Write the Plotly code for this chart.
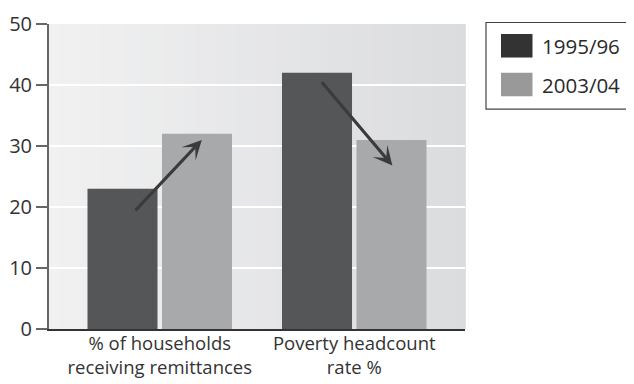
import plotly.graph_objects as go

# data
categories = ["% of households<br>receiving remittances", "Poverty headcount<br>rate %"]
series_names = ["1995/96", "2003/04"]
values_1995 = [23, 42]
values_2003 = [32, 31]
y_ticks = [0, 10, 20, 30, 40, 50]

BAR_COLOURS = ["#555658", "#a8a9ab"]
LEGEND_COLOURS = ["#333333", "#999999"]
FONT = "Open Sans"

# the page puts the figure 8px in from the top-left corner
OFF = 8
W, H = 634, 384
ML, MT = 49 - OFF, 24 - OFF
MR = W - (465 - OFF)
MB = H - (328.7 - OFF)
PW, PH = W - ML - MR, H - MT - MB


def px(x):
    # screen pixel -> paper coordinate
    return (x - OFF - ML) / PW


def py(y):
    return (H - MB - (y - OFF)) / PH


fig = go.Figure(
    data=[
        go.Bar(name=series_names[0], x=categories, y=values_1995,
               marker=dict(color=BAR_COLOURS[0], line=dict(width=0))),
        go.Bar(name=series_names[1], x=categories, y=values_2003,
               marker=dict(color=BAR_COLOURS[1], line=dict(width=0))),
    ]
)

shapes = []
# plot background: horizontal grey gradient
n = 40
c0, c1 = (241, 241, 242), (219, 220, 222)
for i in range(n):
    t = i / (n - 1)
    col = "rgb(%d,%d,%d)" % tuple(round(a + (b - a) * t) for a, b in zip(c0, c1))
    shapes.append(dict(type="rect", xref="paper", yref="paper", x0=i / n, x1=(i + 1) / n + 0.002,
                       y0=0, y1=1, fillcolor=col, line=dict(width=0), layer="below"))

# hand-made legend (big swatches)
shapes.append(dict(type="rect", xref="paper", yref="paper", x0=px(486), x1=px(680),
                   y0=py(109), y1=py(22.5), line=dict(color="#444444", width=1.2),
                   fillcolor="white"))
annotations = []
for i, (name, col) in enumerate(zip(series_names, LEGEND_COLOURS)):
    top = 34 + i * 38.7
    shapes.append(dict(type="rect", xref="paper", yref="paper", x0=px(501), x1=px(532.5),
                       y0=py(top + 23.5), y1=py(top), fillcolor=col, line=dict(width=0)))
    annotations.append(dict(text=name, xref="paper", yref="paper", x=px(540), y=py(top + 12),
                            xanchor="left", yanchor="middle", showarrow=False,
                            font=dict(family=FONT, size=20.5, color="#2a2a2a")))

# arrows showing the change
arrow_style = dict(xref="x", yref="y", axref="x", ayref="y", text="", showarrow=True,
                   arrowhead=3, arrowsize=1.0, arrowwidth=3.2, arrowcolor="#3b3b3b", standoff=0)
annotations.append(dict(x=0.216, y=31.0, ax=-0.132, ay=19.2, **arrow_style))
annotations.append(dict(x=1.196, y=26.8, ax=0.827, ay=40.7, **arrow_style))

fig.update_layout(
    barmode="group",
    bargap=0.234,
    bargroupgap=0.06,
    width=W,
    height=H,
    margin=dict(l=ML, r=MR, t=MT, b=MB, pad=0),
    paper_bgcolor="white",
    plot_bgcolor="rgba(0,0,0,0)",
    showlegend=False,
    font=dict(family=FONT, size=20, color="#333333"),
    shapes=shapes,
    annotations=annotations,
)

fig.update_xaxes(
    range=[-0.5694, 1.5694],
    showline=True,
    linecolor="#333333",
    linewidth=2,
    ticks="",
    showgrid=False,
    tickfont=dict(size=18.5),
    ticklabelstandoff=-3,
    automargin=False,
)

fig.update_yaxes(
    range=[0, 50],
    tickvals=y_ticks,
    showline=True,
    linecolor="#666666",
    linewidth=2,
    ticks="outside",
    ticklen=11,
    tickwidth=1.5,
    tickcolor="#666666",
    showgrid=True,
    gridcolor="white",
    gridwidth=2,
    zeroline=False,
    tickfont=dict(size=20),
    automargin=False,
)

fig.write_html("out.html")
